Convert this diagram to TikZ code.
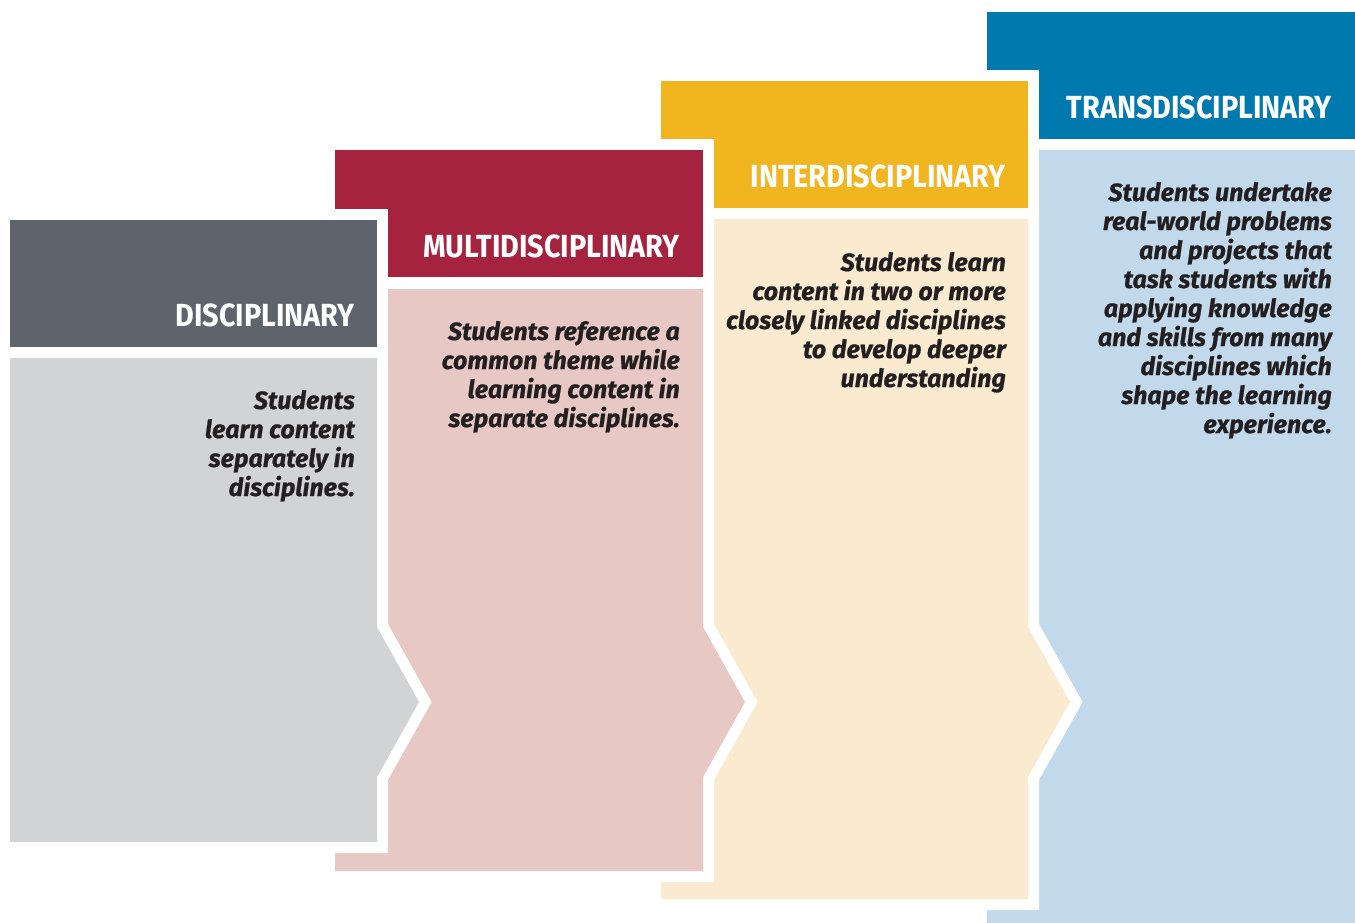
\documentclass[tikz,border=0pt]{standalone}
\usepackage{fontspec}
\setmainfont{Fira Sans}
\newfontfamily\headfont[FakeStretch=0.9]{Fira Sans}
\newfontfamily\blurbfont[FakeBold=0.8]{Fira Sans}
\usepackage{tikz}
\usetikzlibrary{positioning}

\definecolor{discdark}{HTML}{5F636B}
\definecolor{disclight}{HTML}{D1D3D4}
\definecolor{multidark}{HTML}{A6233F}
\definecolor{multilight}{HTML}{E8C8C4}
\definecolor{interdark}{HTML}{F0B51F}
\definecolor{interlight}{HTML}{FAEBD0}
\definecolor{transdark}{HTML}{0079AF}
\definecolor{translight}{HTML}{C2D9EC}
\definecolor{ink}{HTML}{231F20}

\begin{document}
\begin{tikzpicture}[
    x=1pt, y=-1pt,
    gap/.style={draw=white, line width=22pt, line join=miter},
    heading/.style={anchor=base east, inner sep=0pt, text=white, font=\headfont\bfseries\fontsize{32}{32}\selectfont},
    blurb/.style={anchor=base east, inner sep=0pt, align=right, text=ink, font=\blurbfont\bfseries\itshape\fontsize{25}{29}\selectfont}
]
\useasboundingbox (0,0) rectangle (1355,922);

% Transdisciplinary (back)
\draw[gap] (987,12) rectangle (1370,139);
\fill[transdark] (987,12) rectangle (1370,139);
\draw[gap] (987,150) rectangle (1370,940);
\fill[translight] (987,150) rectangle (1370,940);

% Interdisciplinary
\draw[gap] (661,81) rectangle (1028,208);
\fill[interdark] (661,81) rectangle (1028,208);
\draw[gap] (661,219) -- (1028,219) -- (1028,627) -- (1070,702) -- (1028,777) -- (1028,899) -- (661,899) -- cycle;
\fill[interlight] (661,219) -- (1028,219) -- (1028,627) -- (1070,702) -- (1028,777) -- (1028,899) -- (661,899) -- cycle;

% Multidisciplinary
\draw[gap] (335,150) rectangle (703,277);
\fill[multidark] (335,150) rectangle (703,277);
\draw[gap] (335,289) -- (703,289) -- (703,627) -- (745,702) -- (703,777) -- (703,871) -- (335,871) -- cycle;
\fill[multilight] (335,289) -- (703,289) -- (703,627) -- (745,702) -- (703,777) -- (703,871) -- (335,871) -- cycle;

% Disciplinary (front)
\draw[gap] (10,220) rectangle (377,347);
\fill[discdark] (10,220) rectangle (377,347);
\draw[gap] (10,358) -- (377,358) -- (377,627) -- (419,702) -- (377,777) -- (377,842) -- (10,842) -- cycle;
\fill[disclight] (10,358) -- (377,358) -- (377,627) -- (419,702) -- (377,777) -- (377,842) -- (10,842) -- cycle;

% Headings
\node[heading] (disc_head) at (355,326) {DISCIPLINARY};
\node[heading] (multi_head) at (680,257) {MULTIDISCIPLINARY};
\node[heading] (inter_head) at (1006,187) {INTERDISCIPLINARY};
\node[heading] (trans_head) at (1332,118) {TRANSDISCIPLINARY};

% Descriptions (anchored at the baseline of the last line)
\node[blurb] (disc_text) at (355,496) {Students\\learn content\\separately in\\disciplines.};
\node[blurb] (multi_text) at (680,427) {Students reference a\\common theme while\\learning content in\\separate disciplines.};
\node[blurb] (inter_text) at (1006,387) {Students learn\\content in two or more\\closely linked disciplines\\to develop deeper\\understanding};
\node[blurb] (trans_text) at (1332,433) {Students undertake\\real-world problems\\and projects that\\task students with\\applying knowledge\\and skills from many\\disciplines which\\shape the learning\\experience.};

\end{tikzpicture}
\end{document}
